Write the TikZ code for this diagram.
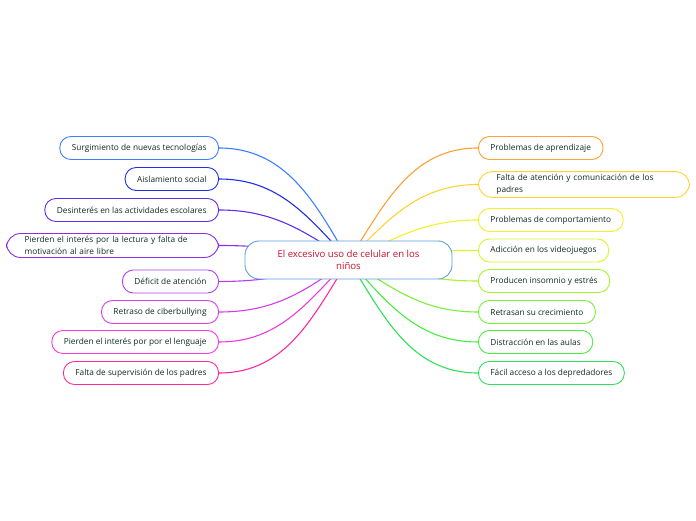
\documentclass[tikz,border=0pt]{standalone}
\usepackage{fontspec}
\setmainfont{Open Sans}
\usetikzlibrary{backgrounds}

\definecolor{texto}{HTML}{102A22}
\definecolor{rojo}{HTML}{C8102E}
\definecolor{borde}{HTML}{5AA0E0}
\definecolor{cla}{HTML}{3D7EFF}
\definecolor{clb}{HTML}{1F2FE8}
\definecolor{clc}{HTML}{5C2EF0}
\definecolor{cld}{HTML}{8A2EE8}
\definecolor{cle}{HTML}{B23EF0}
\definecolor{clf}{HTML}{D33EE8}
\definecolor{clg}{HTML}{EF3ADC}
\definecolor{clh}{HTML}{FF2A9E}
\definecolor{cra}{HTML}{FFA033}
\definecolor{crb}{HTML}{FFD233}
\definecolor{crc}{HTML}{F3F02A}
\definecolor{crd}{HTML}{D6F52A}
\definecolor{cre}{HTML}{A8F22E}
\definecolor{crf}{HTML}{78F03A}
\definecolor{crg}{HTML}{48EE3E}
\definecolor{crh}{HTML}{2FE05A}

\tikzset{
  hoja/.style={draw=#1, line width=0.9pt, fill=white, rounded corners=11pt,
    minimum height=23pt, inner xsep=12pt, inner ysep=3pt,
    font=\fontsize{8.3}{11.5}\selectfont, text=texto},
  rama/.style={draw=#1, line width=1.1pt},
}

\begin{document}
\begin{tikzpicture}[x=1pt,y=1pt]

    \useasboundingbox (0,0) rectangle (696,520);

    % 中心节点
    \node[draw=borde, line width=0.9pt, fill=white, rounded corners=14pt,
      minimum width=207pt, minimum height=38pt, align=center, text=rojo,
      font=\fontsize{9.6}{12.5}\selectfont] (centro) at (348.5,260)
      {El excesivo uso de celular en los\\niños};

    % 左边
    \node[hoja=cla, anchor=east] (l1) at (219,372) {Surgimiento de nuevas tecnologías};
    \node[hoja=clb, anchor=east] (l2) at (219,341) {Aislamiento social};
    \node[hoja=clc, anchor=east] (l3) at (219,310) {Desinterés en las actividades escolares};
    \node[hoja=cld, anchor=east, rounded corners=14pt, inner xsep=18pt, text width=176pt,
      align=left]
      (l4) at (219,274.5) {Pierden el interés por la lectura y falta de\\motivación al aire libre};
    \node[hoja=cle, anchor=east] (l5) at (219,238.5) {Déficit de atención};
    \node[hoja=clf, anchor=east] (l6) at (219,208) {Retraso de ciberbullying};
    \node[hoja=clg, anchor=east] (l7) at (219,178) {Pierden el interés por por el lenguaje};
    \node[hoja=clh, anchor=east] (l8) at (219,147) {Falta de supervisión de los padres};

    % 右边
    \node[hoja=cra, anchor=west] (r1) at (478,372) {Problemas de aprendizaje};
    \node[hoja=crb, anchor=west, rounded corners=14pt, inner xsep=18pt, text width=175pt,
      align=left] (r2) at (478,335.5) {Falta de atención y comunicación de los\\padres};
    \node[hoja=crc, anchor=west] (r3) at (478,300) {Problemas de comportamiento};
    \node[hoja=crd, anchor=west] (r4) at (478,269.5) {Adicción en los videojuegos};
    \node[hoja=cre, anchor=west] (r5) at (478,239) {Producen insomnio y estrés};
    \node[hoja=crf, anchor=west] (r6) at (478,208) {Retrasan su crecimiento};
    \node[hoja=crg, anchor=west] (r7) at (478,178) {Distracción en las aulas};
    \node[hoja=crh, anchor=west] (r8) at (478,147) {Fácil acceso a los depredadores};

    % 连线
    \begin{scope}[on background layer]
      \foreach \n/\a/\c in {l1/120/cla, l2/133/clb, l3/147/clc, l4/170/cld,
                            l5/195/cle, l6/216/clf, l7/226/clg, l8/238/clh}
        \draw[rama=\c] (centro.center) to[out=\a, in=0] (\n.east);
      \foreach \n/\a/\c in {r1/57/cra, r2/46/crb, r3/25/crc, r4/10/crd,
                            r5/-12/cre, r6/-33/crf, r7/-48/crg, r8/-58/crh}
        \draw[rama=\c] (centro.center) to[out=\a, in=180] (\n.west);
    \end{scope}

  \end{tikzpicture}
\end{document}
